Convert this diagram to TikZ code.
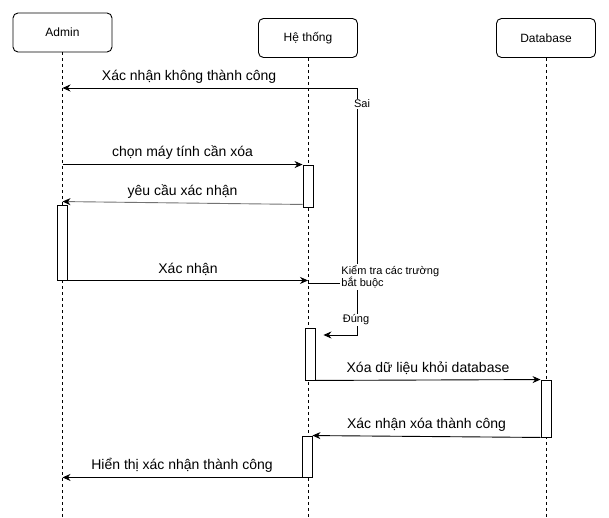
\documentclass[tikz,border=0pt]{standalone}
\usepackage{fontspec}
\setmainfont{Liberation Sans}
\usepackage{tikz}
\usetikzlibrary{positioning,arrows.meta}

\begin{document}
\begin{tikzpicture}[x=1pt, y=1pt, line width=0.9pt,
    actor/.style={rectangle, rounded corners=5pt, draw=black, fill=white,
        minimum width=99pt, minimum height=39pt, font=\fontsize{12}{14}\selectfont},
    actbox/.style={rectangle, draw=black, fill=white, minimum width=10pt, inner sep=0pt},
    lifeline/.style={draw=black, dash pattern=on 3pt off 3pt},
    msg/.style={-{Stealth[length=8pt,width=7pt,color=black]}, draw=black},
    msglbl/.style={font=\fontsize{14}{16}\selectfont},
    smalllbl/.style={font=\fontsize{11}{12.5}\selectfont, fill=white, inner sep=1pt, align=left}
    ]
        \useasboundingbox (0,0) rectangle (609,-518);

        %Actors
        \node[actor] (admin)  at (62.5,-32.5) {Admin};
        \node[actor] (hethong) at (308,-38)  {Hệ thống};
        \node[actor] (db)     at (546,-38)   {Database};

        %Lifelines
        \coordinate (adminEnd) at (admin.south |- 0,-518);
        \coordinate (htEnd)    at (hethong.south |- 0,-518);
        \coordinate (dbEnd)    at (db.south |- 0,-518);
        \draw[lifeline] (admin.south) -- (adminEnd);
        \draw[lifeline] (hethong.south) -- (htEnd);
        \draw[lifeline] (db.south) -- (dbEnd);

        %Activations
        \node[actbox, minimum height=42pt] (ht1) at (308,-186)   {};
        \node[actbox, minimum height=75pt] (ad1) at (62.5,-242.5) {};
        \node[actbox, minimum height=52pt] (ht2) at (310,-354)   {};
        \node[actbox, minimum height=57pt] (db1) at (546,-408.5) {};
        \node[actbox, minimum height=41pt] (ht3) at (307,-456.5) {};

        %Check branch
        \coordinate (kt)    at (357,-283);
        \coordinate (ktTop) at (357,-88);
        \coordinate (ktBot) at (357,-335);
        \draw (hethong.south |- kt) -- (kt);
        \draw[msg] (kt) -- (ktTop) -- (admin.south |- ktTop)
            node[msglbl, pos=0.57, above=1pt] {Xác nhận không thành công};
        \draw[msg] (kt) -- (ktBot) -- ([xshift=8pt]ht2.east |- ktBot);
        \node[smalllbl] (sai)  at (362,-104) {Sai};
        \node[smalllbl] (dung) at (356,-320) {Đúng};
        \node[smalllbl, anchor=west] (ktlbl) at (340,-277) {Kiểm tra các trường\\bắt buộc};

        %Messages
        \draw[msg] (admin.south |- ht1.north) -- (ht1.north west)
            node[msglbl, midway, above=1pt] {chọn máy tính cần xóa};
        \draw[msg, draw=black!55] ([yshift=3pt]ht1.south west) -- ([yshift=3pt]ad1.north)
            node[msglbl, midway, above=1pt, text=black] {yêu cầu xác nhận};
        \draw[msg] (ad1.south east) -- (hethong.south |- ad1.south)
            node[msglbl, midway, above=1pt] {Xác nhận};
        \draw[msg] (ht2.south east) -- (db1.north west)
            node[msglbl, midway, above=2pt] {Xóa dữ liệu khỏi database};
        \draw[msg] (db1.south west) -- (ht3.north east)
            node[msglbl, midway, above=1pt] {Xác nhận xóa thành công};
        \draw[msg] (ht3.south west) -- (admin.south |- ht3.south)
            node[msglbl, midway, above=1pt] {Hiển thị xác nhận thành công};
    \end{tikzpicture}
\end{document}
